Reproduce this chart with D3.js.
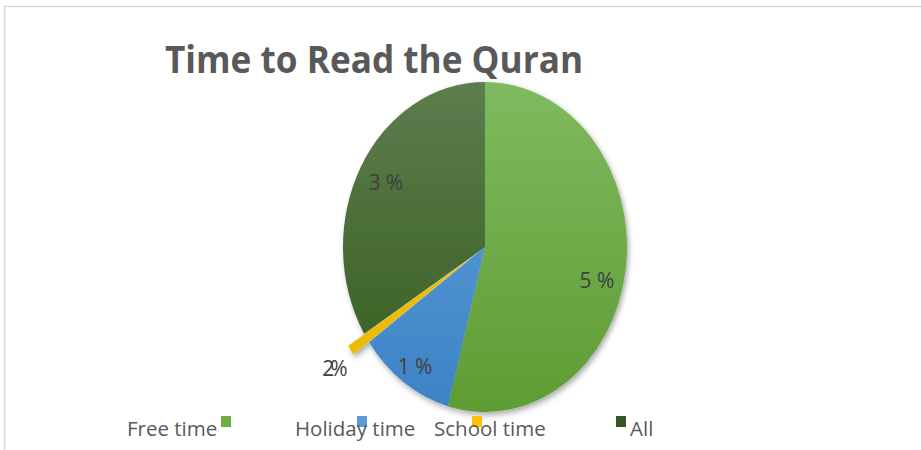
<!DOCTYPE html>
<html>
<head>
<meta charset="utf-8">
<script src="https://cdn.jsdelivr.net/npm/d3@7"></script>
<style>
  body { margin: 0; background: #fff; }
  svg { display: block; }
</style>
</head>
<body>
<svg id="chart" width="921" height="450"></svg>
<script>
// slices, clockwise from 12 o'clock
const categories = ['Free time', 'Holiday time', 'School time', 'All'];
const values = [54.2, 11.0, 1.0, 33.8];
const labels = ['5 %', '1 %', '2%', '3 %'];
const colorsTop = ['#7fba5f', '#61a2de', '#f7c400', '#5d7d4e'];
const colorsBottom = ['#5e9c33', '#3d82c4', '#eab800', '#345c1c'];
const legendColors = ['#70ad47', '#5b9bd5', '#ffc000', '#375623'];

const W = 921, H = 450;
const cx = 485, cy = 247;
const R = 165;          // vertical radius
const sx = 142 / 165;   // pie is squashed horizontally

const svg = d3.select('#chart');
const defs = svg.append('defs');

// frame
svg.append('rect')
    .attr('x', 4.5).attr('y', 6.5)
    .attr('width', W + 10).attr('height', H + 10)
    .attr('fill', 'none')
    .attr('stroke', '#d9d9d9')
    .attr('stroke-width', 1.5);

// title
svg.append('text')
    .attr('x', 165).attr('y', 73)
    .attr('font-family', 'Open Sans')
    .attr('font-weight', 700)
    .attr('font-size', 38)
    .attr('fill', '#595959')
    .attr('textLength', 418)
    .attr('lengthAdjust', 'spacingAndGlyphs')
    .text('Time to Read the Quran');

const shadow = defs.append('filter')
    .attr('id', 'shadow')
    .attr('x', '-20%').attr('y', '-20%')
    .attr('width', '140%').attr('height', '140%');
shadow.append('feDropShadow')
    .attr('dx', 2).attr('dy', 3)
    .attr('stdDeviation', 3)
    .attr('flood-color', '#000')
    .attr('flood-opacity', 0.35);

categories.forEach((c, i) => {
    const g = defs.append('linearGradient')
        .attr('id', 'grad' + i)
        .attr('gradientUnits', 'userSpaceOnUse')
        .attr('x1', 0).attr('y1', -R)
        .attr('x2', 0).attr('y2', R);
    g.append('stop').attr('offset', 0).attr('stop-color', colorsTop[i]);
    g.append('stop').attr('offset', 1).attr('stop-color', colorsBottom[i]);
});

const pie = d3.pie().sort(null).value((d) => d);
const arcs = pie(values);
const arc = d3.arc().innerRadius(0).outerRadius(R);
const explode = [0, 0, 22, 0];

const pieG = svg.append('g')
    .attr('transform', `translate(${cx},${cy}) scale(${sx},1)`)
    .attr('filter', 'url(#shadow)');

pieG.selectAll('path')
    .data(arcs)
    .enter().append('path')
    .attr('d', arc)
    .attr('fill', (d, i) => `url(#grad${i})`)
    .attr('transform', (d, i) => {
        const mid = (d.startAngle + d.endAngle) / 2;
        return `translate(${Math.sin(mid) * explode[i]},${-Math.cos(mid) * explode[i]})`;
    });

// data labels
const labelR = [136, 142, 212, 132];
const labelDy = [16, 3, 5, 0];
const labelPos = (d, i) => d3.arc().innerRadius(labelR[i]).outerRadius(labelR[i]).centroid(d);
svg.append('g')
    .selectAll('text')
    .data(arcs)
    .enter().append('text')
    .attr('x', (d, i) => cx + sx * labelPos(d, i)[0] - 4 * (i === 0))
    .attr('y', (d, i) => cy + labelPos(d, i)[1] + labelDy[i])
    .attr('dy', '0.35em')
    .attr('text-anchor', 'middle')
    .attr('font-family', 'Open Sans')
    .attr('font-size', 21)
    .attr('letter-spacing', (d, i) => i === 2 ? -4 : 0)
    .attr('fill', '#404040')
    .text((d, i) => labels[i]);

// legend
const legendX = [127, 295, 434, 630];
const swatchX = [221, 357, 472, 616];
const legend = svg.append('g');
categories.forEach((c, i) => {
    legend.append('rect')
        .attr('x', swatchX[i]).attr('y', 416)
        .attr('width', 10).attr('height', 11)
        .attr('fill', legendColors[i]);
});
categories.forEach((c, i) => {
    legend.append('text')
        .attr('x', legendX[i]).attr('y', 436)
        .attr('font-family', 'Open Sans')
        .attr('font-size', 20.5)
        .attr('fill', '#595959')
        .text(c);
});
</script>
</body>
</html>
